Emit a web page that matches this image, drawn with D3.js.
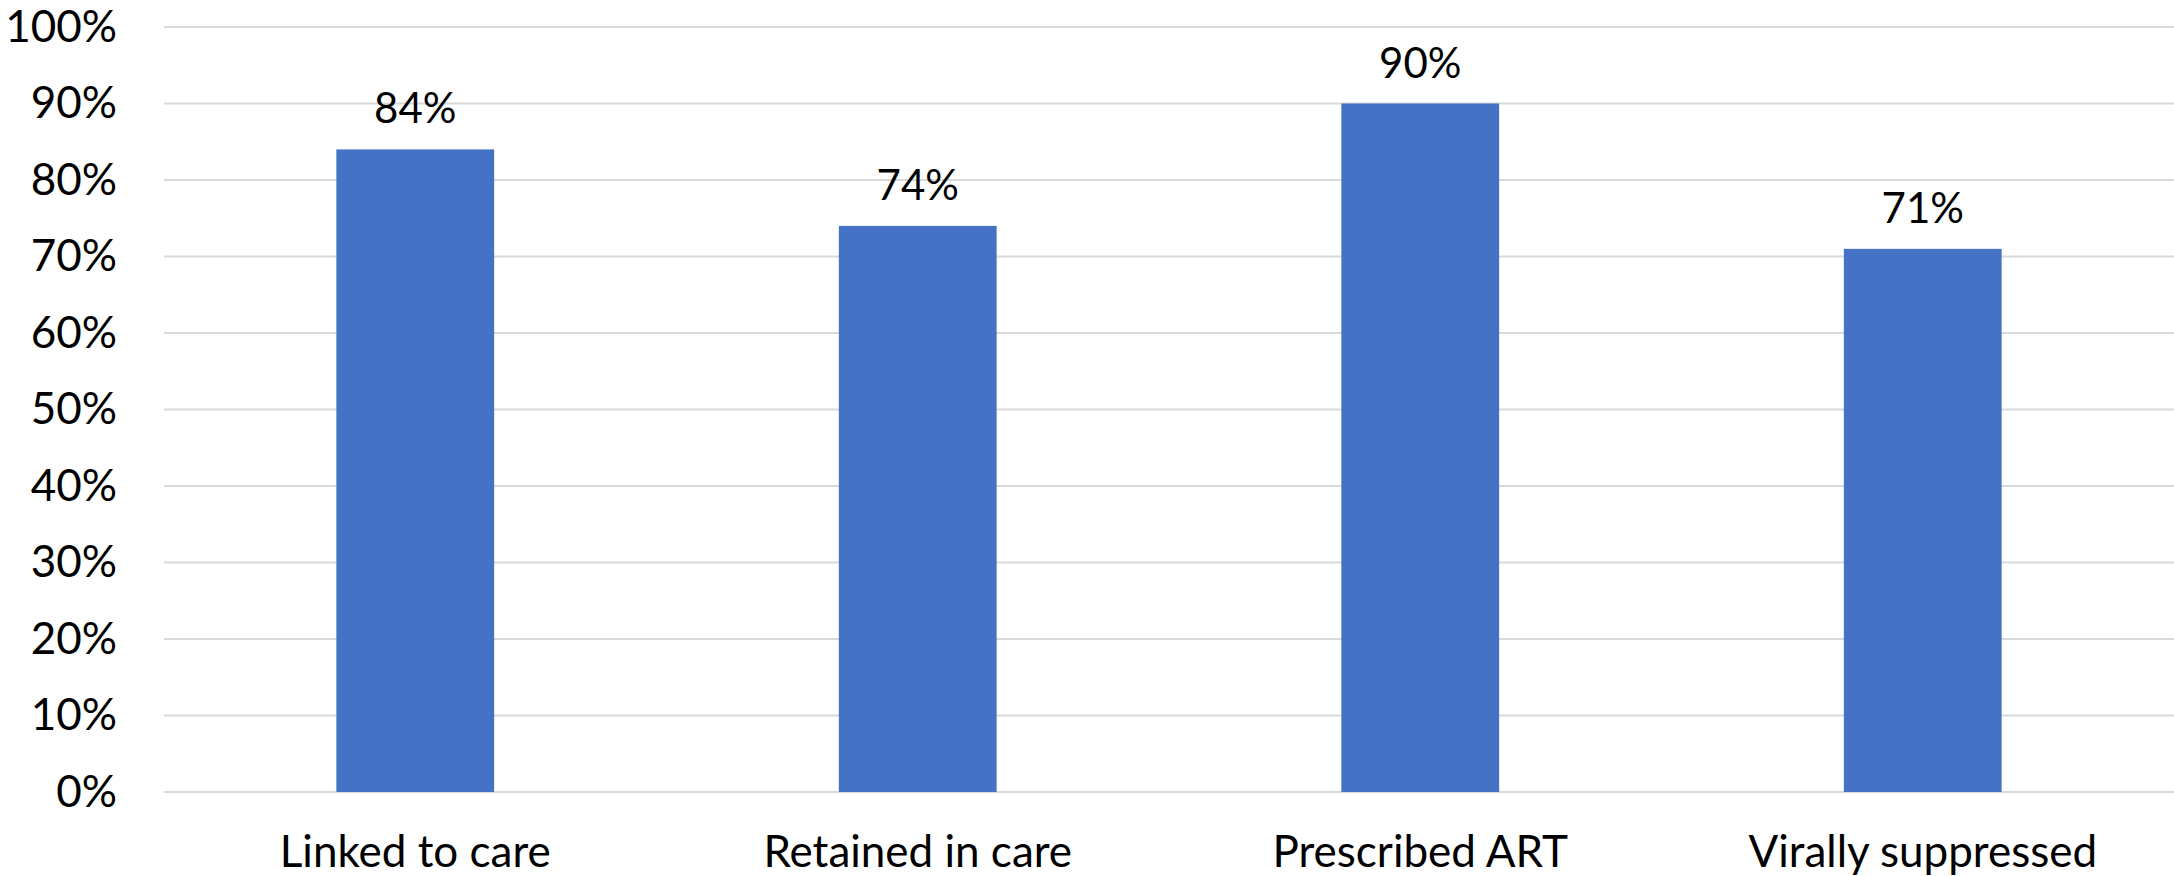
<!DOCTYPE html>
<html>
<head>
<meta charset="utf-8">
<script src="https://cdn.jsdelivr.net/npm/d3@7"></script>
<style>
  html, body { margin: 0; padding: 0; background: #fff; }
  svg { display: block; }
  text { font-family: Lato, "Open Sans", sans-serif; fill: #000; }
</style>
</head>
<body>
<svg id="chart" width="2174" height="876"></svg>
<script>
// Care continuum stages and share of people at each stage
const categories = ["Linked to care", "Retained in care", "Prescribed ART", "Virally suppressed"];
const values = [84, 74, 90, 71];
const yTicks = [0, 10, 20, 30, 40, 50, 60, 70, 80, 90, 100];

const width = 2174, height = 876;
const margin = { top: 27, right: 0, bottom: 84, left: 164 };

const svg = d3.select("#chart");

const x = d3.scaleBand()
  .domain(categories)
  .range([margin.left, width - margin.right])
  .paddingInner(0.686)
  .paddingOuter(0.343);

const y = d3.scaleLinear()
  .domain([0, 100])
  .range([height - margin.bottom, margin.top]);

// Horizontal gridlines
svg.append("g")
  .selectAll("line")
  .data(yTicks)
  .join("line")
  .attr("x1", margin.left)
  .attr("x2", width - margin.right)
  .attr("y1", d => y(d))
  .attr("y2", d => y(d))
  .attr("stroke", "#d9d9d9")
  .attr("stroke-width", 2);

// Y axis labels
const yAxis = d3.axisLeft(y).tickValues(yTicks).tickFormat(d => d + "%").tickSize(0).tickPadding(0);
svg.append("g")
  .attr("transform", `translate(${margin.left - 47},0)`)
  .call(yAxis)
  .call(g => g.select(".domain").remove())
  .call(g => g.selectAll("text")
    .attr("font-size", 44)
    .attr("font-family", "Lato, sans-serif")
    .attr("fill", "#000"));

// Bars
svg.append("g")
  .selectAll("rect")
  .data(values)
  .join("rect")
  .attr("x", (d, i) => x(categories[i]))
  .attr("width", x.bandwidth())
  .attr("y", d => y(d))
  .attr("height", d => y(0) - y(d))
  .attr("fill", "#4472c4");

// Value labels above bars
svg.append("g")
  .selectAll("text")
  .data(values)
  .join("text")
  .attr("x", (d, i) => x(categories[i]) + x.bandwidth() / 2)
  .attr("y", d => y(d) - 26)
  .attr("text-anchor", "middle")
  .attr("font-size", 42)
  .text(d => d + "%");

// Category labels
const xAxis = d3.axisBottom(x).tickSize(0).tickPadding(0);
svg.append("g")
  .attr("transform", `translate(0,${height - 9})`)
  .call(xAxis)
  .call(g => g.select(".domain").remove())
  .call(g => g.selectAll("text")
    .attr("dy", null)
    .attr("y", 0)
    .attr("font-size", 44)
    .attr("font-family", "Lato, sans-serif")
    .attr("fill", "#000"));
</script>
</body>
</html>
